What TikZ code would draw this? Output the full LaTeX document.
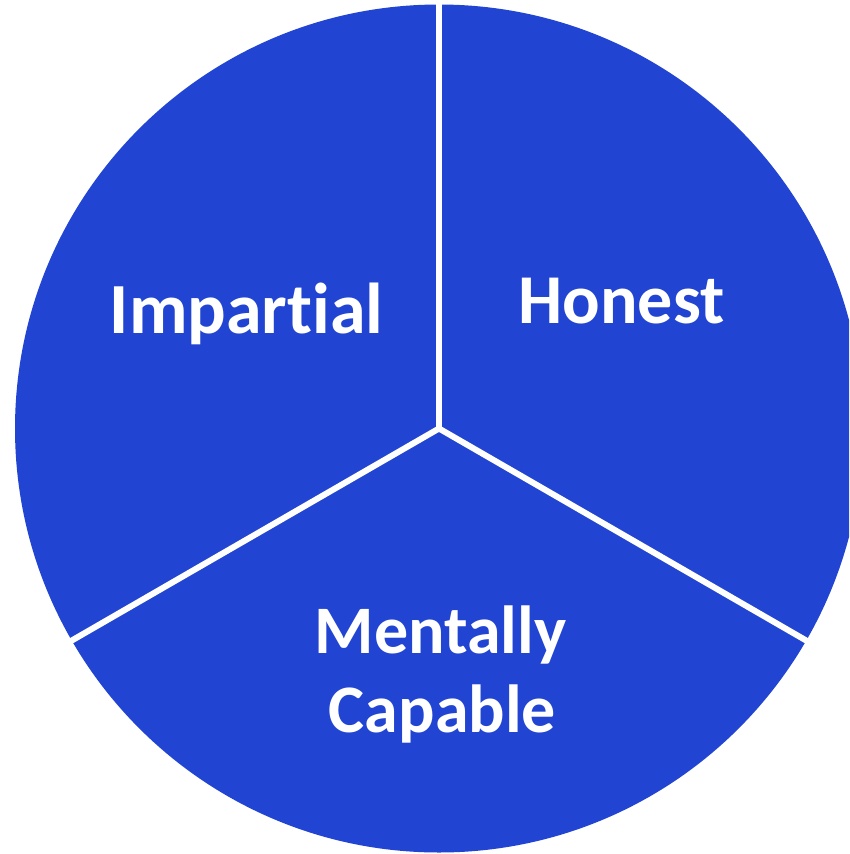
\documentclass[tikz,border=0pt]{standalone}
\usepackage{fontspec}
\setmainfont[Ligatures=CommonOff]{Carlito}
\usetikzlibrary{calc}
\definecolor{pieblue}{RGB}{33,69,210}
\tikzset{
  sector/.style={fill=pieblue},
  divider/.style={draw=white,line width=6pt},
  lbl/.style={text=white,font=\bfseries,inner sep=0pt,anchor=base}
}
\begin{document}
\begin{tikzpicture}[x=1pt,y=-1pt]
\useasboundingbox (0,0) rectangle (849,854);
\clip (0,0) rectangle (849,854);
\coordinate (c) at (439,428.5);
\fill[sector] (c) circle (424);
\coordinate (top) at ($(c)+(270:430)$);
\coordinate (right) at ($(c)+(30:430)$);
\coordinate (left) at ($(c)+(150:430)$);
\draw[divider] (c) -- (top);
\draw[divider] (c) -- (right);
\draw[divider] (c) -- (left);
\node[lbl,font=\bfseries\fontsize{72}{86}\selectfont] (imp) at (246.5,333) {Impartial};
\node[lbl,font=\bfseries\fontsize{70}{84}\selectfont] (hon) at (621.5,323) {Honest};
\node[lbl,font=\bfseries\fontsize{68}{82}\selectfont] (men) at (440.5,653) {Mentally};
\node[lbl,font=\bfseries\fontsize{68}{82}\selectfont] (cap) at (442.5,732) {Capable};
\end{tikzpicture}
\end{document}
